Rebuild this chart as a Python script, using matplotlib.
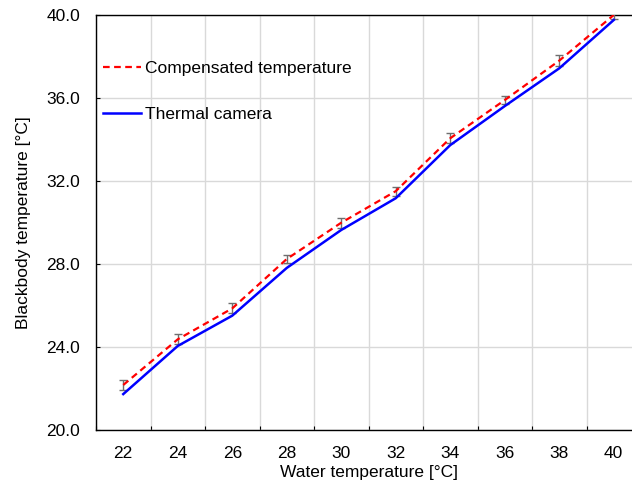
import matplotlib
matplotlib.use("Agg")
import matplotlib.pyplot as plt
import numpy as np

plt.rcParams['font.family'] = ['Liberation Sans', 'DejaVu Sans']

water_temp = [22, 24, 26, 28, 30, 32, 34, 36, 38, 40]
compensated = [22.17, 24.37, 25.86, 28.24, 29.99, 31.51, 34.06, 35.90, 37.80, 40.00]
comp_err = [0.22, 0.24, 0.24, 0.20, 0.24, 0.22, 0.23, 0.20, 0.26, 0.20]
thermal = [21.73, 24.05, 25.51, 27.81, 29.64, 31.17, 33.73, 35.61, 37.43, 39.76]
y_ticks = [20.0, 24.0, 28.0, 32.0, 36.0, 40.0]

FS = 12.5

fig = plt.figure(figsize=(6.32, 4.87), dpi=100)
ax = fig.add_axes([96/632, 57/487, 545/632, 415/487])

x = np.arange(len(water_temp))
ax.errorbar(x, compensated, yerr=comp_err, fmt='none', ecolor='#6e6e6e',
            elinewidth=1, capsize=3, capthick=1, zorder=3)
ax.plot(x, compensated, color='#ff0000', linestyle=(0, (3, 2)), linewidth=1.6,
        label='Compensated temperature', zorder=4)
ax.plot(x, thermal, color='#0000ff', linewidth=1.8, label='Thermal camera', zorder=4)

ax.set_xlim(-0.5, len(water_temp) - 0.5)
ax.set_ylim(20, 40)
ax.set_yticks(y_ticks)
ax.set_yticklabels([f'{v:.1f}' for v in y_ticks])

ax.set_xticks(np.arange(len(water_temp) + 1) - 0.5)
ax.set_xticklabels([])
ax.set_xticks(x, minor=True)
ax.set_xticklabels([str(v) for v in water_temp], minor=True)
ax.tick_params(axis='x', which='major', direction='in', length=3, color='black')
ax.tick_params(axis='x', which='minor', length=0, pad=11.5, labelsize=FS)
ax.tick_params(axis='y', direction='in', length=3, labelsize=FS, pad=11.5)

ax.grid(True, which='major', color='#d9d9d9', linewidth=1)
ax.set_axisbelow(True)
for s in ['left', 'bottom', 'top']:
    ax.spines[s].set_color('black')
    ax.spines[s].set_linewidth(1)
ax.spines['right'].set_visible(False)

ax.set_xlabel('Water temperature [°C]', fontsize=FS, labelpad=3)
ax.set_ylabel('Blackbody temperature [°C]', fontsize=FS, labelpad=11)

ax.legend(loc='upper left', frameon=False, fontsize=FS, handlelength=2.2,
          handletextpad=0.2, labelspacing=1.75, bbox_to_anchor=(0.0, 0.906),
          borderaxespad=0)

fig.savefig('out.png', dpi=100)
